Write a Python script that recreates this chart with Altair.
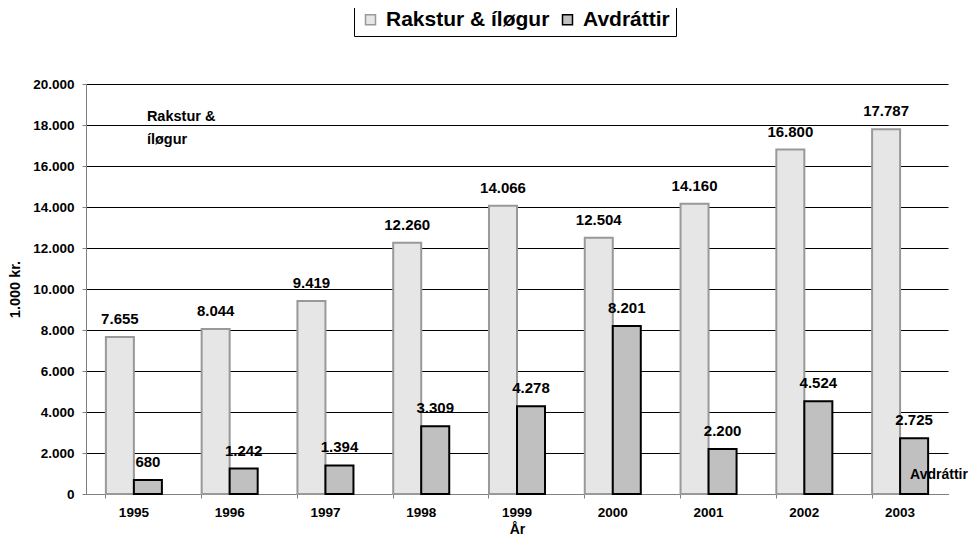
import altair as alt
import pandas as pd

years = ["1995", "1996", "1997", "1998", "1999", "2000", "2001", "2002", "2003"]
rakstur = [7655, 8044, 9419, 12260, 14066, 12504, 14160, 16800, 17787]
avdrattir = [680, 1242, 1394, 3309, 4278, 8201, 2200, 4524, 2725]
series_names = ["Rakstur & íløgur", "Avdráttir"]

rows = []
for y, a, b in zip(years, rakstur, avdrattir):
    rows.append({"year": y, "series": series_names[0], "value": a})
    rows.append({"year": y, "series": series_names[1], "value": b})
df = pd.DataFrame(rows)
df["label"] = df["value"].map(lambda v: f"{v:,}".replace(",", "."))

# series-name annotations (data coordinates)
ann_years = ["1995", "1995", "2003"]
ann_values = [18390, 17270, 930]
ann_texts = ["Rakstur &", "íløgur", "Avdráttir"]
ann = pd.DataFrame({"year": ann_years, "value": ann_values, "text": ann_texts})

FONT = "Arial, Liberation Sans, sans-serif"

x_enc = alt.X("year:N", sort=years,
              scale=alt.Scale(paddingInner=0.415, paddingOuter=0.2075),
              axis=alt.Axis(title="År", labelAngle=0, bandPosition=0,
                            tickSize=4, labelPadding=7, titlePadding=4,
                            domainColor="#808080", tickColor="#808080",
                            labelFontSize=13.5, titleFontSize=14))
y_scale = alt.Scale(domain=[0, 20000], nice=False)
y_enc = alt.Y("value:Q", scale=y_scale,
              axis=alt.Axis(title="1.000 kr.", values=list(range(0, 20001, 2000)),
                            labelExpr="replace(format(datum.value, ','), ',', '.')",
                            tickSize=4, labelPadding=8, titlePadding=10,
                            grid=True, gridColor="#000", gridWidth=1,
                            domainColor="#808080", tickColor="#808080",
                            labelFontSize=13.5, titleFontSize=14.5))
xoff = alt.XOffset("series:N", sort=series_names,
                   scale=alt.Scale(domain=series_names, paddingInner=0, paddingOuter=0))

base = alt.Chart(df)

bars = base.mark_bar(strokeWidth=2).encode(
    x=x_enc,
    xOffset=xoff,
    y=y_enc,
    color=alt.Color("series:N", sort=series_names,
                    scale=alt.Scale(domain=series_names, range=["#e6e6e6", "#c0c0c0"]),
                    legend=alt.Legend(title=None, orient="none", legendX=268, legendY=-81,
                                      direction="horizontal", symbolType="square",
                                      symbolSize=100, symbolStrokeWidth=1.5,
                                      labelFontSize=21, labelFontWeight="bold",
                                      labelLimit=0,
                                      labelOffset=5, columnPadding=7, padding=6,
                                      strokeColor="#000", labelColor="#000")),
    stroke=alt.Stroke("series:N", sort=series_names,
                      scale=alt.Scale(domain=series_names, range=["#999999", "#000000"]),
                      legend=None),
)

labels = base.mark_text(fontSize=15, fontWeight="bold", baseline="alphabetic", dy=-13,
                        color="#000").encode(
    x=alt.X("year:N", sort=years),
    xOffset=xoff,
    y=alt.Y("value:Q"),
    text="label:N",
)

annotations = alt.Chart(ann).transform_filter("datum.year == '1995'").mark_text(
    fontSize=14.5, fontWeight="bold", align="left", baseline="middle", color="#000", dx=13
).encode(x=alt.X("year:N", sort=years), y=alt.Y("value:Q"), text="text:N")

annotations2 = alt.Chart(ann).transform_filter("datum.year == '2003'").mark_text(
    fontSize=14, fontWeight="bold", align="left", baseline="middle", color="#000", dx=10
).encode(x=alt.X("year:N", sort=years), y=alt.Y("value:Q"), text="text:N")

chart = alt.layer(bars, labels, annotations, annotations2).properties(
    width=862, height=410,
    autosize=alt.AutoSizeParams(type="none"),
    padding={"left": 78, "top": 76, "right": 21, "bottom": 44},
    background="#ffffff",
).configure(font=FONT).configure_axis(
    labelFontWeight="bold", titleFontWeight="bold", labelColor="#000", titleColor="#000",
    labelFont=FONT, titleFont=FONT,
).configure_legend(labelFont=FONT).configure_text(font=FONT).configure_view(stroke=None)

chart.save("out.html", embed_options={"renderer": "svg", "actions": False})
